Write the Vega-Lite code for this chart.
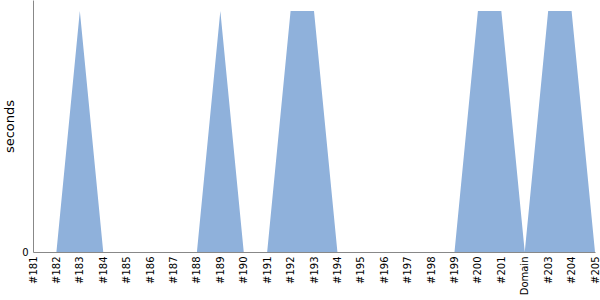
{
  "$schema": "https://vega.github.io/schema/vega-lite/v6.json",
  "width": 600,
  "height": 300,
  "autosize": {"type": "fit", "contains": "padding"},
  "padding": {"left": 3, "top": 0, "right": 0, "bottom": 5},
  "config": {
    "view": {"stroke": null},
    "axis": {"labelFont": "DejaVu Sans", "titleFont": "DejaVu Sans", "labelColor": "#000", "titleColor": "#000", "domainColor": "#888", "grid": false, "ticks": false, "labelFontSize": 10, "titleFontSize": 13, "titleFontWeight": "normal"}
  },
  "data": {
    "values": [
      {"build": "#181", "seconds": 0},
      {"build": "#182", "seconds": 0},
      {"build": "#183", "seconds": 1},
      {"build": "#184", "seconds": 0},
      {"build": "#185", "seconds": 0},
      {"build": "#186", "seconds": 0},
      {"build": "#187", "seconds": 0},
      {"build": "#188", "seconds": 0},
      {"build": "#189", "seconds": 1},
      {"build": "#190", "seconds": 0},
      {"build": "#191", "seconds": 0},
      {"build": "#192", "seconds": 1},
      {"build": "#193", "seconds": 1},
      {"build": "#194", "seconds": 0},
      {"build": "#195", "seconds": 0},
      {"build": "#196", "seconds": 0},
      {"build": "#197", "seconds": 0},
      {"build": "#198", "seconds": 0},
      {"build": "#199", "seconds": 0},
      {"build": "#200", "seconds": 1},
      {"build": "#201", "seconds": 1},
      {"build": "Domain", "seconds": 0},
      {"build": "#203", "seconds": 1},
      {"build": "#204", "seconds": 1},
      {"build": "#205", "seconds": 0}
    ]
  },
  "mark": {"type": "area", "color": "#8fb1db", "interpolate": "linear"},
  "encoding": {
    "x": {"field": "build", "type": "ordinal", "sort": null, "scale": {"type": "point", "padding": 0}, "axis": {"title": null, "labelAngle": -90, "labelPadding": 4, "labelOverlap": false}},
    "y": {"field": "seconds", "type": "quantitative", "scale": {"domain": [0, 1.046], "nice": false}, "axis": {"title": "seconds", "values": [0], "labelPadding": 5, "titlePadding": 5}}
  }
}
